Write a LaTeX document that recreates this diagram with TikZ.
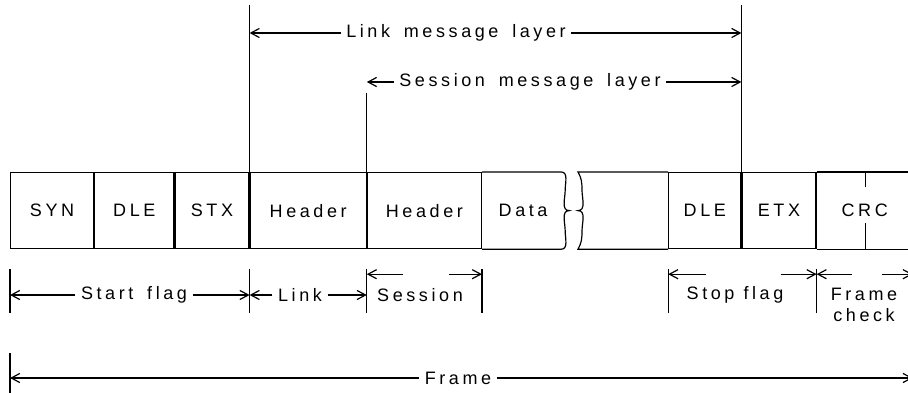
\documentclass[tikz,border=0pt]{standalone}
\usepackage{fontspec}
\setmainfont{Liberation Sans}[LetterSpace=20,WordSpace=1.6]
\usetikzlibrary{positioning,arrows.meta}

\begin{document}
\begin{tikzpicture}[x=1pt,y=-1pt,
  font=\fontsize{18}{21}\selectfont,
  cell/.style={draw,minimum height=76pt,inner sep=0pt,anchor=north west},
  lbl/.style={inner sep=5pt},
  dim/.style={->},
  >={Straight Barb[length=3mm,width=3.2mm]},
  line width=1.2pt
]
\useasboundingbox (0,0) rectangle (908,393);

% frame, first part
\node[cell,minimum width=83pt] (syn) at (10,172) {SYN};
\node[cell,minimum width=79pt,right=0pt of syn] (dle) {DLE};
\node[cell,minimum width=74pt,right=0pt of dle] (stx) {STX};
\node[cell,minimum width=116pt,right=0pt of stx] (hdrl) {Header};
\node[cell,minimum width=114pt,right=0pt of hdrl] (hdrs) {Header};
\node[cell,draw=none,minimum width=81pt,right=0pt of hdrs] (data) {Data};
\draw (data.north west) -- ([xshift=-3pt]data.north east)
  to[out=0,in=90] ([xshift=1pt,yshift=-18pt]data.north east)
  to[out=-90,in=180] ([xshift=5pt]data.east)
  to[out=180,in=90] ([xshift=1pt,yshift=18pt]data.south east)
  to[out=-90,in=0] ([xshift=-3pt]data.south east) -- (data.south west);

% frame, second part
\node[cell,draw=none,minimum width=89pt] (gap) at (578,172) {};
\node[cell,minimum width=72pt,right=0pt of gap] (dlee) {DLE};
\node[cell,minimum width=74pt,right=0pt of dlee] (etx) {ETX};
\node[cell,draw=none,minimum width=95pt,right=0pt of etx] (crc) {CRC};
\draw (gap.north east) -- (gap.north west)
  to[out=-60,in=90] ([xshift=4pt,yshift=-18pt]gap.north west)
  to[out=-90,in=0] ([xshift=0pt]gap.west)
  to[out=0,in=90] ([xshift=4pt,yshift=18pt]gap.south west)
  to[out=-90,in=60] (gap.south west) -- (gap.south east);
\draw (crc.north west) -- (crc.north east);
\draw (crc.south west) -- (crc.south east);
\draw ([xshift=49pt]crc.north west) -- ++(0,15);
\draw ([xshift=49pt]crc.south west) -- ++(0,-26);

% layers above
\draw (hdrl.north west) -- ++(0,-167);
\draw (hdrs.north west) -- ++(0,-79);
\draw (etx.north west) -- ++(0,-167);
\node[lbl] (lml) at (456,33) {Link message layer};
\draw[dim] (lml.west) -- (lml.west -| hdrl.north west);
\draw[dim] (lml.east) -- (lml.east -| etx.north west);
\node[lbl] (sml) at (530,82) {Session message layer};
\draw[dim] (sml.west) -- (sml.west -| hdrs.north west);
\draw[dim] (sml.east) -- (sml.east -| etx.north west);

% fields below
\foreach \c in {syn,hdrl,hdrs,data,dlee,crc}
  \draw ([yshift=-20pt]\c.south west) -- ([yshift=-64pt]\c.south west);
\node[lbl] (sfl) at (134,295) {Start flag};
\draw[dim] (sfl.west) -- (sfl.west -| syn.west);
\draw[dim] (sfl.east) -- (sfl.east -| hdrl.west);
\node[lbl] (lnk) at (300,295) {Link};
\draw[dim] (lnk.west) -- (lnk.west -| hdrl.west);
\draw[dim] (lnk.east) -- (lnk.east -| hdrs.west);
\node[lbl] (ses) at (420,295) {Session};
\path ([yshift=-25pt]hdrs.south west) coordinate (sesl)
      ([yshift=-25pt]data.south west) coordinate (sesr);
\draw[dim] ([xshift=36pt]sesl) -- (sesl);
\draw[dim] ([xshift=-33pt]sesr) -- (sesr);
\node[lbl] (stf) at (735,295) {Stop\enspace flag};
\path ([yshift=-25pt]dlee.south west) coordinate (stfl)
      ([yshift=-25pt]crc.south west) coordinate (stfr)
      ([yshift=-25pt]crc.south east) coordinate (fcr);
\draw[dim] ([xshift=38pt]stfl) -- (stfl);
\draw[dim] ([xshift=-36pt]stfr) -- (stfr);
\node[lbl,align=center,inner sep=0pt] (fck) at (864,305) {Frame\\check};
\draw[dim] ([xshift=35pt]stfr) -- (stfr);
\draw[dim] ([xshift=-31pt]fcr) -- (fcr);

% whole frame
\draw ([yshift=-104pt]syn.south west) -- ([yshift=-145pt]syn.south west);
\node[lbl] (frm) at (458,378) {Frame};
\draw[dim] (frm.west) -- (frm.west -| syn.west);
\draw[dim] (frm.east) -- (frm.east -| crc.east);
\end{tikzpicture}
\end{document}
